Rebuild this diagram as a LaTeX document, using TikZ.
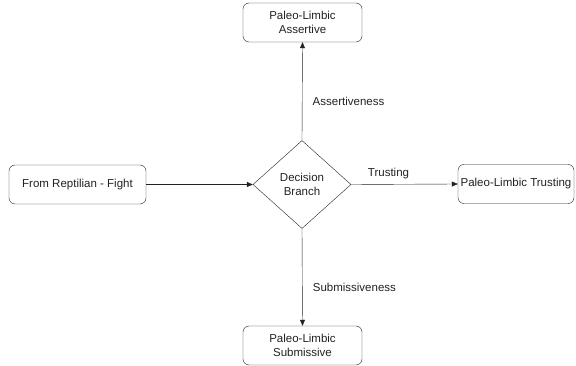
\documentclass[tikz,border=0pt]{standalone}
\usepackage{fontspec}
\setmainfont{Liberation Sans}
\usetikzlibrary{arrows.meta,shapes.geometric}
\definecolor{ink}{HTML}{222222}
\tikzset{>={Triangle[length=6pt,width=5pt]},line width=1.2pt,
  every node/.style={font=\fontsize{11.5pt}{13.5pt}\selectfont,text=ink},
  flow/.style={->,draw=ink}}
\begin{document}
\begin{tikzpicture}[x=1pt,y=-1pt,block/.style={draw=ink,rounded corners=6pt,fill=white,minimum width=119pt,minimum height=39pt,align=center,inner sep=2pt},every node/.style={font=\fontsize{11.5pt}{13.5pt}\selectfont,text=ink}]
\useasboundingbox (0,0) rectangle (576,366);
\node[block] (assertive) at (302.5,22.5) {Paleo-Limbic\\Assertive};
\node[block,minimum width=137pt] (reptile) at (77.5,184.5) {From Reptilian - Fight};
\node[draw=ink,diamond,minimum width=98pt,minimum height=88pt,inner sep=0pt,align=center] (branch) at (302,184.5) {Decision\\Branch};
\node[block,minimum width=116pt] (trusting) at (516,184) {Paleo-Limbic Trusting};
\node[block] (submissive) at (302.5,345.5) {Paleo-Limbic\\Submissive};
% Input enters the decision, then one arrow per outcome.
\draw[flow] (reptile.east)--(branch.west);
\draw[flow] (branch.north)--node[pos=.4,right=7pt] {Assertiveness}(assertive.south);
\draw[flow] (branch.east)--node[pos=.35,above=2pt] {Trusting}(trusting.west);
\draw[flow] (branch.south)--node[pos=.6,right=7pt] {Submissiveness}(submissive.north);
\end{tikzpicture}
\end{document}
